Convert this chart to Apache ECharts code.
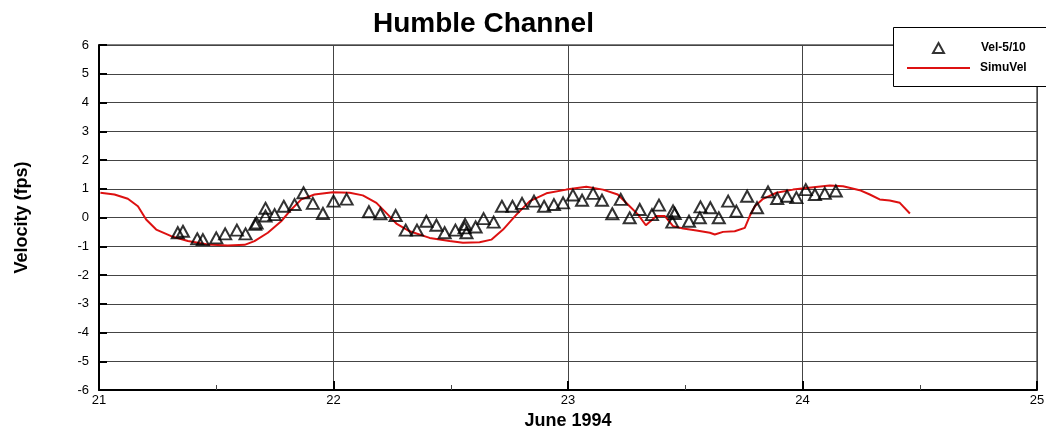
<!DOCTYPE html>
<html>
<head>
<meta charset="utf-8">
<script src="https://cdn.jsdelivr.net/npm/echarts@6/dist/echarts.min.js"></script>
<style>html,body{margin:0;padding:0;background:#fff;}#c{width:1046px;height:433px;}</style>
</head>
<body>
<div id="c"></div>
<script>
// Observed velocity (Vel-5/10): day of June 1994, velocity (fps)
const obsX = [21.336,21.358,21.419,21.443,21.500,21.538,21.588,21.625,21.666,21.672,21.710,21.710,21.749,21.788,21.834,21.872,21.912,21.955,22.000,22.056,
  22.151,22.200,22.265,22.308,22.356,22.396,22.439,22.474,22.520,22.561,22.559,22.567,22.606,22.640,22.683,22.718,22.763,22.804,22.855,22.898,
  22.940,22.979,23.021,23.060,23.107,23.145,23.189,23.225,23.263,23.306,23.358,23.388,23.448,23.455,23.445,23.516,23.562,23.565,23.607,23.643,
  23.683,23.718,23.764,23.806,23.853,23.892,23.934,23.974,24.014,24.053,24.095,24.142];
const obsY = [-0.53,-0.48,-0.74,-0.77,-0.71,-0.57,-0.44,-0.57,-0.24,-0.19,0.32,0.05,0.10,0.39,0.45,0.86,0.49,0.14,0.57,0.64,
  0.20,0.13,0.07,-0.44,-0.44,-0.13,-0.27,-0.53,-0.44,-0.24,-0.36,-0.53,-0.33,-0.04,-0.16,0.39,0.39,0.49,0.57,0.39,
  0.45,0.51,0.78,0.60,0.84,0.60,0.13,0.63,-0.01,0.28,0.10,0.43,0.23,0.14,-0.16,-0.13,-0.01,0.37,0.34,-0.01,
  0.57,0.22,0.74,0.34,0.89,0.66,0.74,0.69,0.97,0.80,0.84,0.92];
// Simulated velocity (SimuVel)
const simX = [21.006,21.066,21.123,21.166,21.201,21.244,21.308,21.379,21.464,21.549,21.621,21.663,21.720,21.777,21.820,21.863,21.919,21.997,22.069,22.125,
  22.183,22.232,22.268,22.325,22.410,22.495,22.552,22.623,22.673,22.723,22.780,22.837,22.908,22.993,23.078,23.149,23.212,23.263,23.299,23.332,
  23.377,23.413,23.448,23.491,23.548,23.605,23.626,23.661,23.711,23.754,23.775,23.797,23.832,23.889,23.960,24.017,24.116,24.173,24.244,24.287,
  24.329,24.372,24.415,24.458];
const simY = [0.86,0.80,0.65,0.39,-0.07,-0.42,-0.65,-0.82,-0.94,-0.97,-0.95,-0.82,-0.53,-0.13,0.28,0.63,0.80,0.88,0.86,0.77,
  0.51,0.10,-0.21,-0.48,-0.71,-0.82,-0.88,-0.86,-0.77,-0.42,0.10,0.57,0.84,0.97,1.07,0.97,0.80,0.39,0.10,-0.27,
  0.05,0.05,-0.30,-0.38,-0.45,-0.53,-0.59,-0.50,-0.48,-0.36,0.05,0.39,0.65,0.86,0.97,1.03,1.11,1.09,0.95,0.80,
  0.63,0.59,0.51,0.14];
const xTicks = [21,22,23,24,25];
const yTicks = [-6,-5,-4,-3,-2,-1,0,1,2,3,4,5,6];

const FONT = '"Liberation Sans", Arial, sans-serif';
const chart = echarts.init(document.getElementById('c'), null, {renderer: 'canvas'});
chart.setOption({
  animation: false,
  backgroundColor: '#fff',
  title: {
    text: 'Humble Channel', left: 368, top: 5,
    textStyle: {fontFamily: FONT, fontSize: 28, fontWeight: 'bold', color: '#000'}
  },
  graphic: [{
    type: 'rect', left: 893, top: 27, z: 50,
    shape: {width: 170, height: 59},
    style: {fill: '#fff', stroke: '#000', lineWidth: 1}
  }],
  legend: [
    {
      left: 932, top: 42, orient: 'vertical', z: 60,
      padding: 0, itemWidth: 11, itemHeight: 10,
      textStyle: {fontFamily: FONT, fontSize: 12, fontWeight: 'bold', color: '#000', padding: [0, 0, 0, 32]},
      data: [{name: 'Vel-5/10', icon: 'triangle', itemStyle: {color: '#fff', borderColor: '#000', borderWidth: 2}}]
    },
    {
      left: 907, top: 62, orient: 'vertical', z: 60,
      padding: 0, itemWidth: 63, itemHeight: 2,
      textStyle: {fontFamily: FONT, fontSize: 12, fontWeight: 'bold', color: '#000', padding: [0, 0, 0, 5]},
      data: [{name: 'SimuVel', icon: 'rect', itemStyle: {color: '#dd1111', borderWidth: 0}}]
    }
  ],
  grid: {left: 99, right: 9, top: 45, bottom: 43, outerBoundsMode: 'none', containLabel: false,
    show: true, borderColor: '#000', borderWidth: 1, backgroundColor: 'transparent'},
  xAxis: {
    type: 'value', min: xTicks[0], max: xTicks[xTicks.length - 1], interval: 1,
    name: 'June 1994', nameLocation: 'middle', nameGap: 22,
    nameTextStyle: {fontFamily: FONT, fontSize: 18, fontWeight: 'bold', color: '#000'},
    axisLine: {onZero: false, lineStyle: {color: '#000', width: 2}},
    axisTick: {inside: true, length: 9, lineStyle: {color: '#000', width: 2}},
    minorTick: {show: true, splitNumber: 2, length: 5, lineStyle: {color: '#444', width: 1}},
    axisLabel: {fontFamily: FONT, fontSize: 13, color: '#000', margin: 4},
    splitLine: {show: true, lineStyle: {color: '#444', width: 1}}
  },
  yAxis: {
    type: 'value', min: yTicks[0], max: yTicks[yTicks.length - 1], interval: 1,
    name: 'Velocity (fps)', nameLocation: 'middle', nameGap: 68, nameRotate: 90,
    nameTextStyle: {fontFamily: FONT, fontSize: 18, fontWeight: 'bold', color: '#000'},
    axisLine: {onZero: false, lineStyle: {color: '#000', width: 2}},
    axisTick: {inside: true, length: 8, lineStyle: {color: '#000', width: 2}},
    axisLabel: {fontFamily: FONT, fontSize: 13, color: '#000', margin: 10},
    splitLine: {show: true, lineStyle: {color: '#444', width: 1}}
  },
  series: [
    {
      name: 'Vel-5/10', type: 'scatter', symbol: 'triangle', symbolSize: [12, 11],
      itemStyle: {color: 'rgba(255,255,255,0)', borderColor: '#000', borderWidth: 2},
      data: obsX.map((x, i) => [x, obsY[i]]), z: 3
    },
    {
      name: 'SimuVel', type: 'line', showSymbol: false, symbol: 'none',
      lineStyle: {color: '#dd1111', width: 2}, itemStyle: {color: '#dd1111'},
      data: simX.map((x, i) => [x, simY[i]]), z: 2
    }
  ]
});
</script>
</body>
</html>
